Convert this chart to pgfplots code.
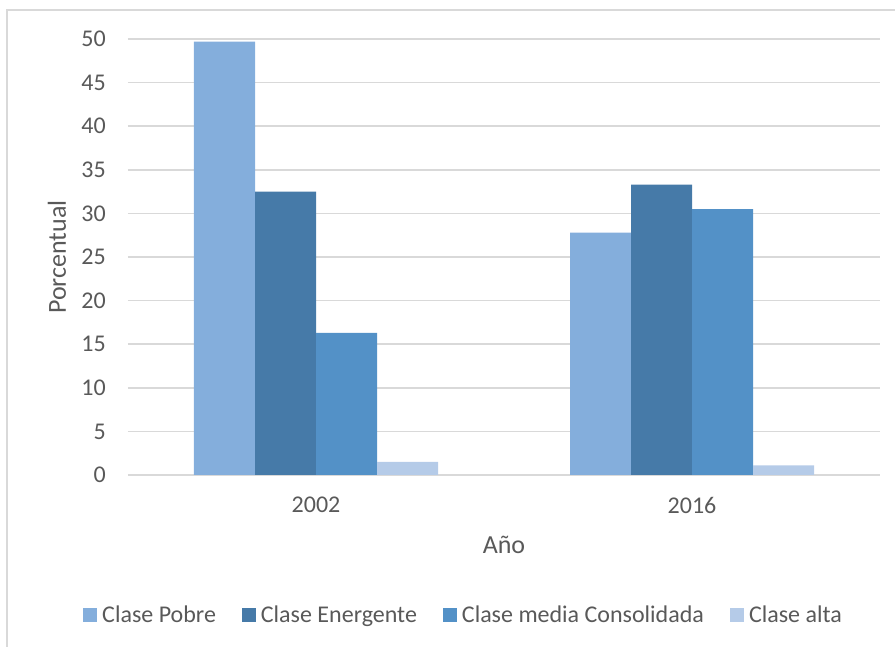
\documentclass[border=0pt]{standalone}
\usepackage{pgfplots}
\pgfplotsset{compat=1.18}
\usepackage{fontspec}
\setmainfont{Carlito}
\definecolor{cPobre}{RGB}{132,174,220}
\definecolor{cEner}{RGB}{70,122,168}
\definecolor{cMedia}{RGB}{83,145,199}
\definecolor{cAlta}{RGB}{181,203,232}
\definecolor{txt}{RGB}{89,89,89}
\definecolor{gridc}{RGB}{217,217,217}
\begin{document}
\begin{tikzpicture}[x=1pt,y=1pt]
\path[use as bounding box] (0,0) rectangle (895,647);
\draw[gridc, line width=1.5pt] (7,-5) -- (7,637) -- (900,637);
\begin{axis}[
  at={(128pt,172pt)}, anchor=south west,
  scale only axis, width=752pt, height=436pt,
  ybar=0pt, bar width=61pt,
  xmin=-0.5, xmax=1.5, ymin=0, ymax=50,
  xtick=data, xticklabels={2002,2016},
  ytick={0,5,...,50},
  ymajorgrids, major grid style={gridc, line width=1.5pt},
  major tick length=0pt, tick style={draw=none},
  axis x line*=bottom, axis y line*=left,
  x axis line style={gridc, line width=1.5pt, -},
  y axis line style={draw=none},
  /pgf/number format/assume math mode=true,
  tick label style={font=\fontsize{24}{28}\selectfont, text=txt},
  yticklabel style={inner sep=0pt, anchor=east, xshift=-22pt},
  xticklabel style={inner sep=0pt, anchor=north, yshift=-22pt},
  xlabel={Año}, ylabel={Porcentual},
  label style={font=\fontsize{26}{30}\selectfont, text=txt},
  xlabel style={at={(rel axis cs:0.5,-0.1606)}, anchor=center},
  ylabel style={at={(rel axis cs:-0.0944,0.5)}, anchor=center},
  legend columns=4,
  legend style={draw=none, fill=none, at={(rel axis cs:-0.0638,-0.321)}, anchor=west,
    font=\fontsize{24}{28}\selectfont, text=txt,
    /tikz/every odd column/.append style={column sep=3pt},
    /tikz/every even column/.append style={column sep=24pt}},
  legend image code/.code={\draw[#1, draw=none] (0pt,-7pt) rectangle (14pt,7pt);},
]
\addplot[fill=cPobre, draw=none] coordinates {(0,49.7) (1,27.8)};
\addplot[fill=cEner, draw=none] coordinates {(0,32.5) (1,33.3)};
\addplot[fill=cMedia, draw=none] coordinates {(0,16.3) (1,30.5)};
\addplot[fill=cAlta, draw=none] coordinates {(0,1.5) (1,1.1)};
\legend{Clase Pobre, Clase Energente, Clase media Consolidada, Clase alta}
\end{axis}
\end{tikzpicture}
\end{document}
